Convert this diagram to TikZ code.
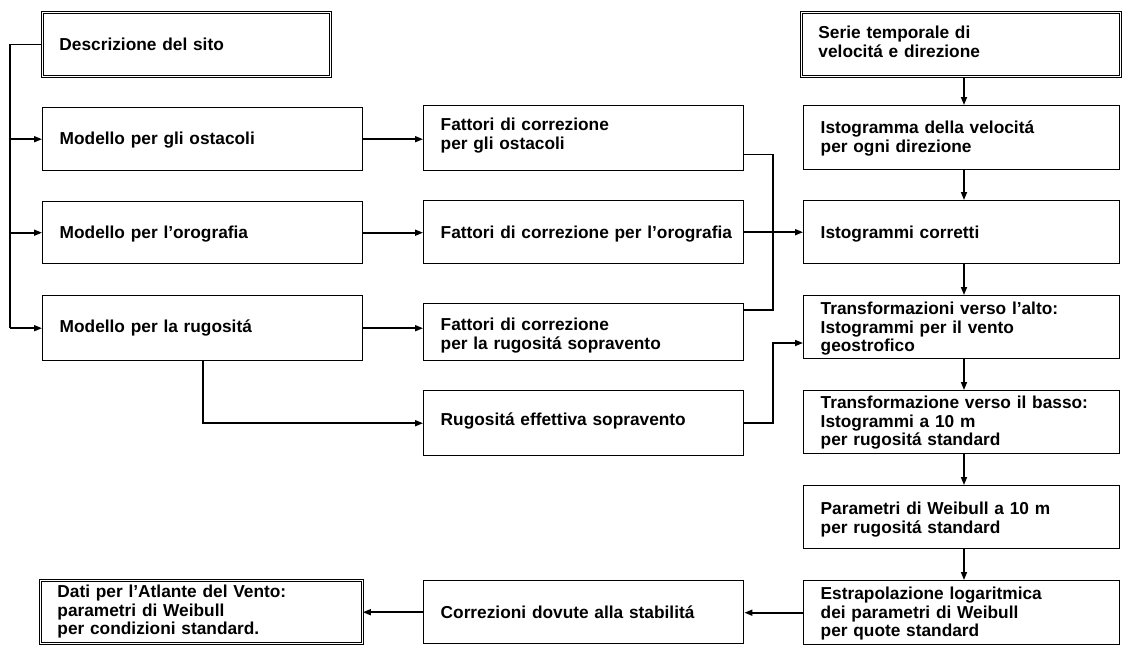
\documentclass[tikz,border=0pt]{standalone}
\usepackage{fontspec}
\setmainfont{Liberation Sans}
\usetikzlibrary{arrows.meta}
\newcommand{\boxtext}[1]{\begin{tabular}[t]{@{}l@{}}#1\end{tabular}}
\tikzset{
  boxst/.style={draw, line width=1.4pt, inner xsep=17pt, inner ysep=0pt, align=left, anchor=north west},
  dboxst/.style={boxst, double, double distance=1.4pt, line width=0.9pt},
  conn/.style={line width=1.6pt},
  conarr/.style={conn, -{Triangle[length=8pt,width=6pt]}},
}
\begin{document}
\begin{tikzpicture}[x=1pt, y=-1pt, font=\fontsize{17.3}{18.6}\selectfont\bfseries]
\useasboundingbox (0,0) rectangle (1122,646);

% left column
\node[dboxst, text width=254pt, text height=38pt, text depth=26pt] (desc) at (42,12) {\boxtext{Descrizione del sito}};
\node[boxst, text width=286pt, text height=37pt, text depth=26pt] (mo) at (42,107) {\boxtext{Modello per gli ostacoli}};
\node[boxst, text width=286pt, text height=37pt, text depth=25pt] (mg) at (42,201) {\boxtext{Modello per l’orografia}};
\node[boxst, text width=286pt, text height=37pt, text depth=28pt] (mr) at (42,295) {\boxtext{Modello per la rugositá}};

% middle column
\node[boxst, text width=286pt, text height=25pt, text depth=40pt] (fo) at (423,105) {\boxtext{Fattori di correzione\\per gli ostacoli}};
\node[boxst, text width=286pt, text height=38pt, text depth=25pt] (fg) at (423,200) {\boxtext{Fattori di correzione per l’orografia}};
\node[boxst, text width=286pt, text height=27pt, text depth=30pt] (fr) at (423,303) {\boxtext{Fattori di correzione\\per la rugositá sopravento}};
\node[boxst, text width=286pt, text height=35pt, text depth=30pt] (re) at (423,390) {\boxtext{Rugositá effettiva sopravento}};

% right column
\node[dboxst, text width=285pt, text height=26.5pt, text depth=37.5pt] (serie) at (801,12) {\boxtext{Serie temporale di\\velocitá e direzione}};
\node[boxst, text width=282pt, text height=28pt, text depth=36pt] (ist) at (803,105) {\boxtext{Istogramma della velocitá\\per ogni direzione}};
\node[boxst, text width=282pt, text height=38pt, text depth=25pt] (ic) at (803,200) {\boxtext{Istogrammi corretti}};
\node[boxst, text width=282pt, text height=19pt, text depth=44pt] (tu) at (803,295) {\boxtext{Transformazioni verso l’alto:\\Istogrammi per il vento\\geostrofico}};
\node[boxst, text width=282pt, text height=18pt, text depth=45pt] (tb) at (803,390) {\boxtext{Transformazione verso il basso:\\Istogrammi a 10 m\\per rugositá standard}};
\node[boxst, text width=282pt, text height=29pt, text depth=34pt] (pw) at (803,485) {\boxtext{Parametri di Weibull a 10 m\\per rugositá standard}};
\node[boxst, text width=282pt, text height=19pt, text depth=45pt] (es) at (803,580) {\boxtext{Estrapolazione logaritmica\\dei parametri di Weibull\\per quote standard}};

% bottom row
\node[boxst, text width=286pt, text height=38pt, text depth=25pt] (co) at (423,580) {\boxtext{Correzioni dovute alla stabilitá}};
\node[dboxst, text width=288pt, text height=17pt, text depth=46pt] (dati) at (40,580) {\boxtext{Dati per l’Atlante del Vento:\\parametri di Weibull\\per condizioni standard.}};

% helper coordinates
\coordinate (trunk) at (10,0);
\coordinate (bus) at (773,0);
\coordinate (col) at (964,0);
\coordinate (foout) at ([yshift=17pt]fo.south east);
\coordinate (frout) at ([yshift=-7pt]fr.north east);
\coordinate (tuin) at ([yshift=-48pt]tu.north west);

% left trunk
\draw[conn] (desc.west) -- (desc.west -| trunk) -- (trunk |- mr.west);
\draw[conarr] (trunk |- mo.west) -- (mo.west);
\draw[conarr] (trunk |- mg.west) -- (mg.west);
\draw[conarr] (trunk |- mr.west) -- (mr.west);

% models to factors
\draw[conarr] (mo.east) -- (mo.east -| fo.west);
\draw[conarr] (mg.east) -- (mg.east -| fg.west);
\draw[conarr] (mr.east) -- (mr.east -| fr.west);
\draw[conarr] (mr.south) |- (re.west);

% factors to right column
\draw[conn] (foout) -| (bus |- frout) -- (frout);
\draw[conarr] (fg.east) -- (fg.east -| ic.west);
\draw[conarr] (re.east) -| (bus |- tuin) -- (tuin);

% right column chain
\draw[conarr] (serie.south -| col) -- (ist.north -| col);
\draw[conarr] (ist.south -| col) -- (ic.north -| col);
\draw[conarr] (ic.south -| col) -- (tu.north -| col);
\draw[conarr] (tu.south -| col) -- (tb.north -| col);
\draw[conarr] (tb.south -| col) -- (pw.north -| col);
\draw[conarr] (pw.south -| col) -- (es.north -| col);

% bottom row
\draw[conarr] (es.west) -- (es.west -| co.east);
\draw[conarr] (co.west) -- (co.west -| dati.east);
\end{tikzpicture}
\end{document}
